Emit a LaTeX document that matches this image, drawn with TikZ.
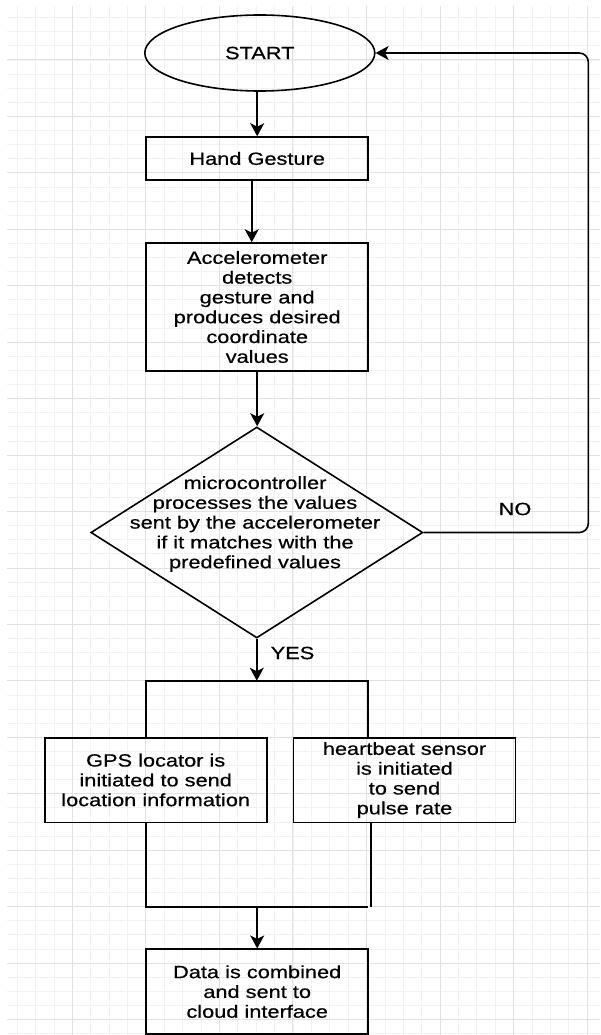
\documentclass[tikz,border=0pt]{standalone}
\usepackage{fontspec}
\setmainfont{Liberation Sans}[FakeStretch=1.23,FakeBold=0.5]
\usetikzlibrary{shapes.geometric,arrows.meta}
\definecolor{gridmajor}{HTML}{E2E2E2}
\definecolor{gridminor}{HTML}{F2F2F2}
\begin{document}
\begin{tikzpicture}[x=1pt,y=-1pt,
  every node/.style={font=\fontsize{17.7}{19.8}\selectfont, text=black},
  box/.style={draw=black, line width=1.6pt, rectangle, inner sep=0pt, align=center},
  conn/.style={draw=black, line width=1.6pt},
  arr/.style={conn, -{Stealth[length=13pt,width=14pt,inset=3.5pt]}},
  lbl/.style={inner sep=0pt}]
\useasboundingbox (0,0) rectangle (600,1035);
\fill[white] (0,0) rectangle (600,1035);
\begin{scope}
\clip (7,6) rectangle (600,1035);
\foreach \i in {0,...,32} \draw[gridminor, line width=0.8pt] ({17.13+\i*18.39},6) -- ++(0,1029);
\foreach \i in {0,...,72} \draw[gridminor, line width=0.8pt] (7,{17.67+\i*14.11}) -- ++(593,0);
\foreach \i in {0,...,7} \draw[gridmajor, line width=1pt] ({72.3+\i*73.55},6) -- ++(0,1029);
\foreach \i in {0,...,17} \draw[gridmajor, line width=1pt] (7,{60+\i*56.45}) -- ++(593,0);
\end{scope}

\node[ellipse, draw=black, line width=1.6pt, minimum width=230pt, minimum height=76pt, inner sep=0pt] (start) at (259.8,53) {START};
\node[box, minimum width=222pt, minimum height=43pt] (hand) at (257.2,158.5) {Hand Gesture};
\node[box, minimum width=222pt, minimum height=128pt] (acc) at (257.2,307) {Accelerometer\\ detects\\ gesture and\\ produces desired\\ coordinate\\ values};
\node[diamond, draw=black, line width=1.6pt, minimum width=332pt, minimum height=211pt, inner sep=0pt] (dec) at (256.8,532.5) {};
\node[lbl, align=center] (dectext) at (255,524) {microcontroller\\processes the values\\sent by the accelerometer\\if it matches with the\\predefined values};
\node[box, minimum width=222pt, minimum height=84.6pt] (gps) at (155.7,780) {GPS locator is\\initiated to send\\location information};
\node[box, minimum width=222pt, minimum height=84.6pt] (hb) at (404.5,780) {heartbeat sensor\\is initiated\\to send\\pulse rate};
\node[box, minimum width=222pt, minimum height=84.7pt] (data) at (257.2,991.6) {Data is combined\\and sent to\\cloud interface};

\coordinate (loop) at (588.3,533);
\coordinate (splitL) at (146.2,680.7);
\coordinate (splitR) at (368.2,680.7);
\coordinate (joinL) at (146.2,906.7);
\coordinate (joinR) at (371.2,906.7);

\draw[arr] (hand.north |- start.south) -- (hand.north);
\draw[arr] ([xshift=-5.5pt]hand.south) -- ([xshift=-5.5pt]acc.north);
\draw[arr] (acc.south) -- (acc.south |- dec.north);
\draw[arr, rounded corners=9pt] (dec.east) -- (dec.east -| loop) -- (start.east -| loop) -- (start.east);
\node[lbl] (no) at (515,509) {NO};
\draw[arr] (dec.south) -- (dec.south |- splitL);
\node[lbl] (yes) at (292.5,653) {YES};
\draw[conn] (splitL |- gps.north) -- (splitL) -- (splitR) -- (splitR |- hb.north);
\draw[conn] (splitL |- gps.south) -- (joinL) -- (joinL -| splitR);
\draw[conn] (joinR |- hb.south) -- (joinR);
\draw[arr] (data.north |- joinL) -- (data.north);
\end{tikzpicture}
\end{document}
